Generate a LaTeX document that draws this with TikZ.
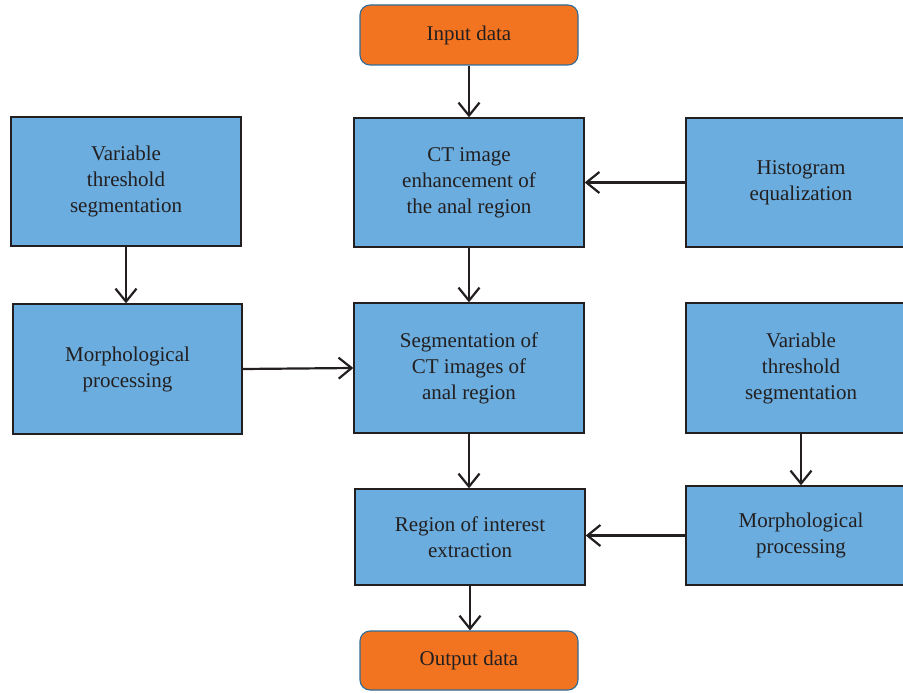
\documentclass[tikz,border=0pt]{standalone}
\usepackage{fontspec}
\setmainfont{Liberation Serif}
\usetikzlibrary{arrows.meta}
\definecolor{boxblue}{HTML}{6AADDE}
\definecolor{boxorange}{HTML}{F27421}
\definecolor{inkdark}{HTML}{231F20}
\definecolor{orangeedge}{HTML}{2F6C98}
\tikzset{
  bluebox/.style={draw=inkdark, line width=1.3pt, fill=boxblue, align=center,
    inner sep=0pt, text=inkdark, font=\fontsize{21}{26}\selectfont},
  termbox/.style={draw=orangeedge, line width=1.1pt, fill=boxorange, rounded corners=10pt,
    align=center, inner sep=0pt, text=inkdark, font=\fontsize{21}{26}\selectfont},
  flow/.style={draw=inkdark, line width=2.2pt, -{Straight Barb[length=13pt,width=21pt,line width=2.2pt]}},
}
\begin{document}
\begin{tikzpicture}[x=1pt,y=-1pt]
\useasboundingbox (0,0) rectangle (903,693);
\clip (0,0) rectangle (903,693);
\node[termbox, minimum width=218pt, minimum height=60pt] (in) at (469,35) {Input data};
\node[bluebox, minimum width=230pt, minimum height=129pt] (ct) at (469,182.5) {CT image\\enhancement of\\the anal region};
\node[bluebox, minimum width=230pt, minimum height=129pt] (hist) at (801,182.5) {Histogram\\equalization};
\node[bluebox, minimum width=230pt, minimum height=129pt] (vtl) at (126,181.5) {Variable\\threshold\\segmentation};
\node[bluebox, minimum width=229pt, minimum height=130pt] (mpl) at (127.5,369) {Morphological\\processing};
\node[bluebox, minimum width=230pt, minimum height=130pt] (seg) at (469,368) {Segmentation of\\CT images of\\anal region};
\node[bluebox, minimum width=230pt, minimum height=130pt] (vtr) at (801,368) {Variable\\threshold\\segmentation};
\node[bluebox, minimum width=230pt, minimum height=96pt] (roi) at (470,537) {Region of interest\\extraction};
\node[bluebox, minimum width=230pt, minimum height=99pt] (mpr) at (801,535.5) {Morphological\\processing};
\node[termbox, minimum width=218pt, minimum height=59pt] (out) at (469,660.5) {Output data};
\draw[flow] (in.south) -- (ct.north);
\draw[flow] (hist.west) -- (ct.east);
\draw[flow] (vtl.south) -- (vtl.south |- mpl.north);
\draw[flow] (mpl.east) -- (seg.west);
\draw[flow] (ct.south) -- (seg.north);
\draw[flow] (seg.south) -- (seg.south |- roi.north);
\draw[flow] (vtr.south) -- (mpr.north);
\draw[flow] (mpr.west) -- (mpr.west -| roi.east);
\draw[flow] (roi.south) -- (roi.south |- out.north);
\end{tikzpicture}
\end{document}
